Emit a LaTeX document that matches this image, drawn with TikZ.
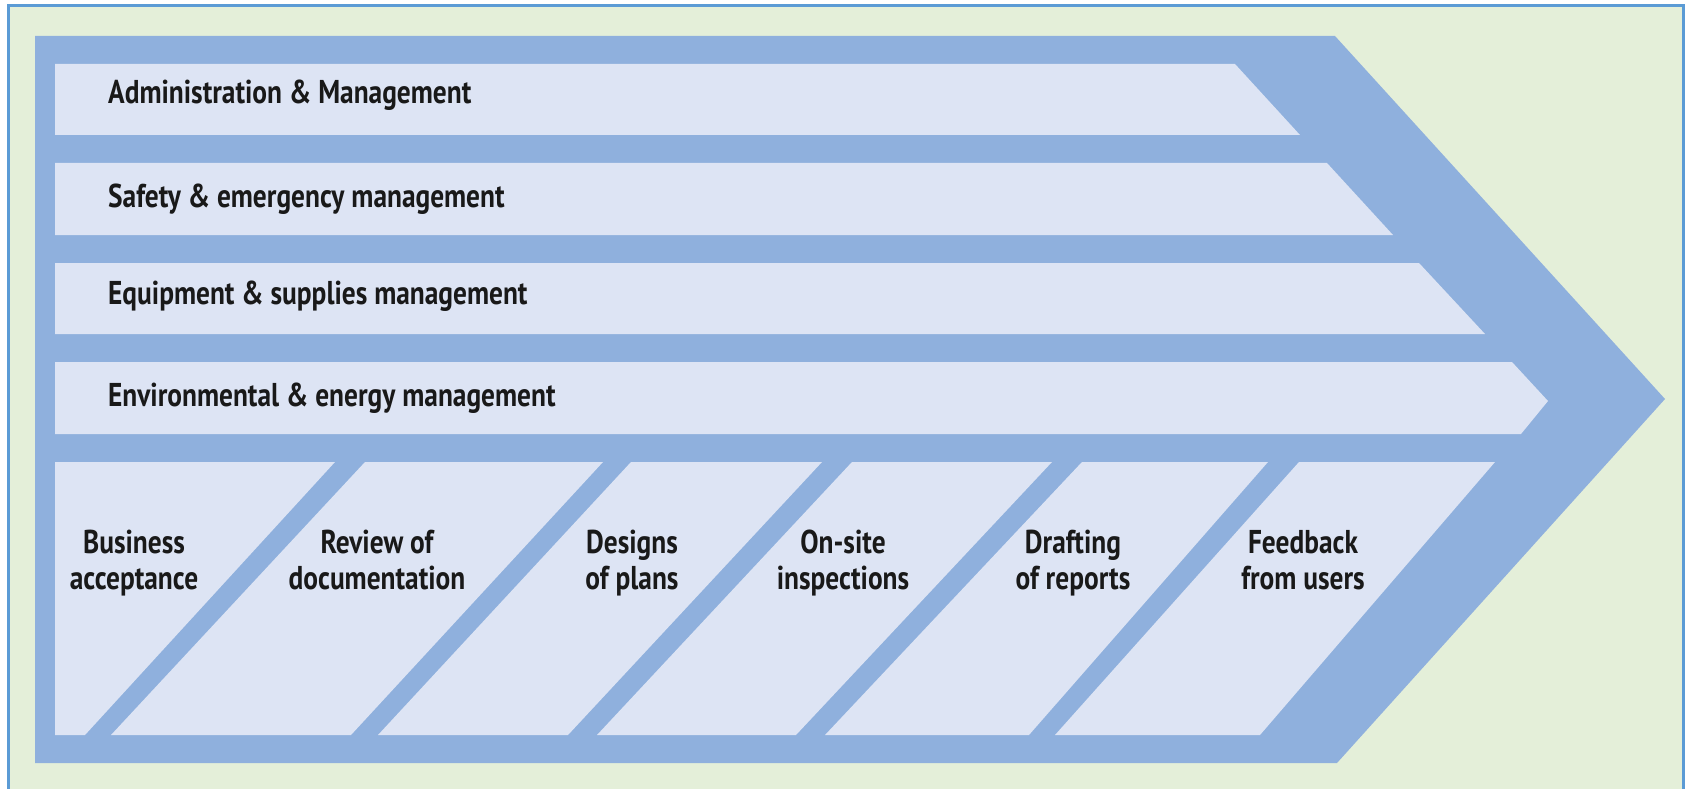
\documentclass[tikz,border=0pt]{standalone}
\usepackage{fontspec}
\setmainfont{PT Sans}[FakeStretch=0.83]
\definecolor{frameblue}{RGB}{91,155,213}
\definecolor{bandblue}{RGB}{143,176,221}
\definecolor{lanefill}{RGB}{221,228,244}
\definecolor{paper}{RGB}{228,239,217}
\definecolor{ink}{RGB}{25,25,25}
\begin{document}
\begin{tikzpicture}[x=1pt,y=-1pt,
  lane/.style={fill=lanefill},
  lanetext/.style={anchor=base west, inner sep=0pt, text=ink,
    font=\fontsize{33}{40}\selectfont\bfseries},
  steptext/.style={anchor=base, inner sep=0pt, align=center, text=ink,
    font=\fontsize{33}{36}\selectfont\bfseries}]
\useasboundingbox (0,0) rectangle (1687,789);
% panel background and frame
\fill[paper] (8,6) rectangle (1683,789);
\draw[frameblue, line width=3pt] (8.5,789) -- (8.5,6) -- (1683,6) -- (1683,789);
% large chevron
\fill[bandblue] (35,36) -- (1335,36) -- (1665,399) -- (1337,763) -- (35,763) -- cycle;
% management lanes
\fill[lane] (55,64) -- (1235,64) -- (1300,135) -- (55,135) -- cycle;
\fill[lane] (55,163) -- (1327,163) -- (1393,235) -- (55,235) -- cycle;
\fill[lane] (55,263) -- (1419,263) -- (1485,334) -- (55,334) -- cycle;
\fill[lane] (55,362) -- (1512,362) -- (1548,401) -- (1521,434) -- (55,434) -- cycle;
% process steps
\fill[lane] (55,462) -- (335,462) -- (85,735) -- (55,735) -- cycle;
\fill[lane] (365,462) -- (603,462) -- (351,735) -- (111,735) -- cycle;
\fill[lane] (631,462) -- (822,462) -- (568,735) -- (378,735) -- cycle;
\fill[lane] (852,462) -- (1052,462) -- (796,735) -- (597,735) -- cycle;
\fill[lane] (1082,462) -- (1268,462) -- (1029,735) -- (825,735) -- cycle;
\fill[lane] (1299,462) -- (1495,462) -- (1260,735) -- (1055,735) -- cycle;
% lane labels
\node[lanetext] (admin) at (108,104) {Administration \& Management};
\node[lanetext] (safety) at (108,207) {Safety \& emergency management};
\node[lanetext] (equip) at (108,304) {Equipment \& supplies management};
\node[lanetext] (env) at (108,406) {Environmental \& energy management};
% step labels (base anchor sits on the second line)
\node[steptext] (business) at (134,589) {Business\\acceptance};
\node[steptext] (review) at (377,589) {Review of\\documentation};
\node[steptext] (designs) at (632,589) {Designs\\of plans};
\node[steptext] (onsite) at (843,589) {On-site\\inspections};
\node[steptext] (drafting) at (1073,589) {Drafting\\of reports};
\node[steptext] (feedback) at (1303,589) {Feedback\\from users};
\end{tikzpicture}
\end{document}
